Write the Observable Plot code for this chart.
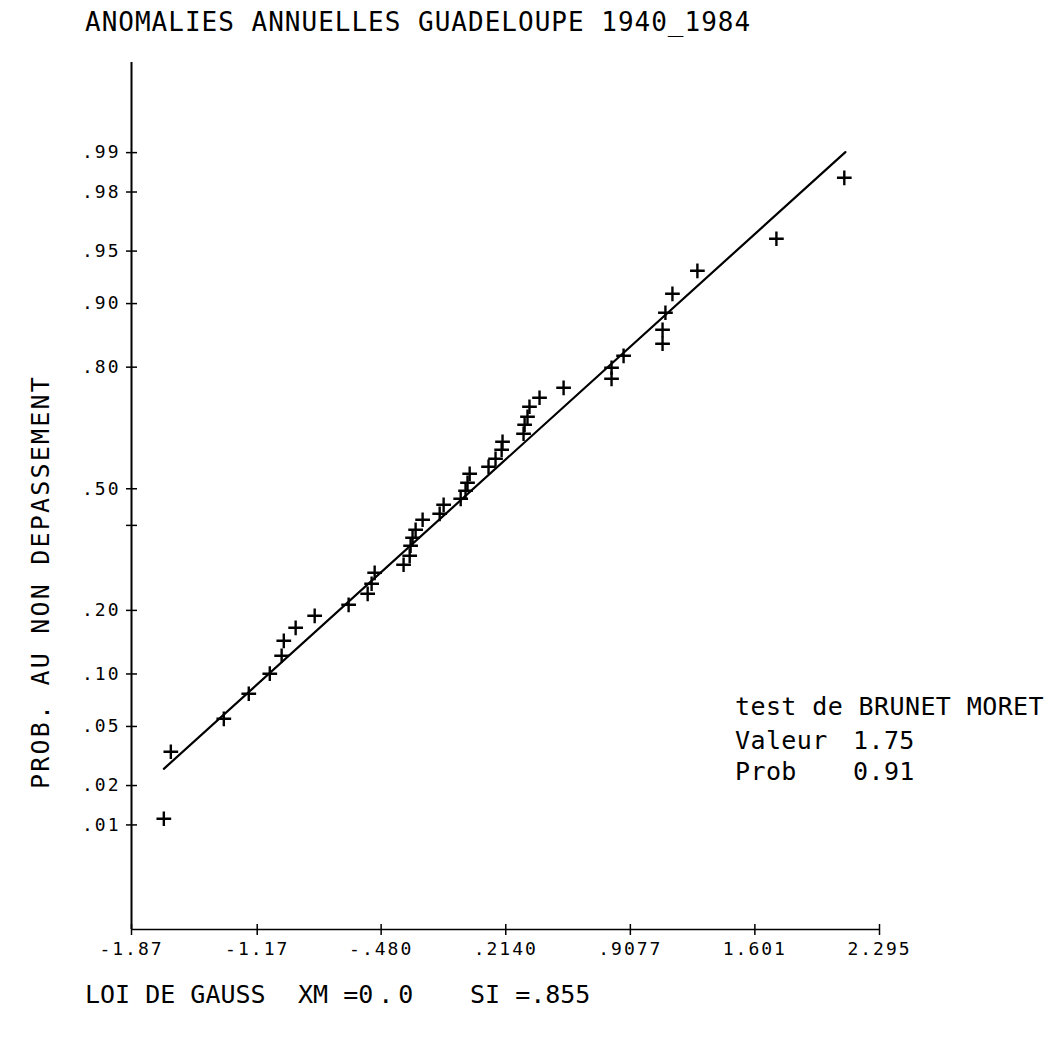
<!DOCTYPE html>
<html>
<head>
<meta charset="utf-8">
<script src="https://cdn.jsdelivr.net/npm/d3@7"></script>
<script src="https://cdn.jsdelivr.net/npm/@observablehq/plot@0.6"></script>
<style>
  html, body { margin: 0; padding: 0; background: #fff; }
  #wrap { position: relative; width: 1053px; height: 1046px; overflow: hidden; background: #fff;
          font-family: "DejaVu Sans Mono", monospace; color: #000; }
  #chart { position: absolute; left: 0; top: 0; }
  .lbl { position: absolute; white-space: pre; line-height: 1; }
  #title { left: 85px; top: 9px; font-size: 26px; letter-spacing: 1px; }
  #ylab { left: 40px; top: 582px; font-size: 25px; letter-spacing: 2.2px;
          transform: translate(-50%, -50%) rotate(-90deg); }
  .xl { top: 982px; font-size: 25px; letter-spacing: 0px; }
  .note { font-size: 25px; letter-spacing: 0.4px; }
  #chart svg text { letter-spacing: 2px; }
</style>
</head>
<body>
<div id="wrap">
  <div id="chart"></div>
  <div id="title" class="lbl">ANOMALIES ANNUELLES GUADELOUPE 1940_1984</div>
  <div id="ylab" class="lbl">PROB. AU NON DEPASSEMENT</div>
  <div class="lbl xl" style="left:85px">LOI DE GAUSS</div>
  <div class="lbl xl" style="left:298px">XM =<span style="letter-spacing:5px">0.0</span></div>
  <div class="lbl xl" style="left:470px">SI =.855</div>
  <div class="lbl note" style="left:735px;top:694px">test de BRUNET MORET</div>
  <div class="lbl note" style="left:735px;top:728px">Valeur</div>
  <div class="lbl note" style="left:853px;top:728px">1.75</div>
  <div class="lbl note" style="left:735px;top:759px">Prob</div>
  <div class="lbl note" style="left:853px;top:759px">0.91</div>
</div>
<script>
// ---- data ----
const anomalies = [
  -1.690, -1.651, -1.356, -1.217, -1.100, -1.034, -1.022, -0.956, -0.850, -0.661,
  -0.555, -0.533, -0.516, -0.355, -0.321, -0.316, -0.305, -0.288, -0.249, -0.154,
  -0.132, -0.037, -0.010, 0.001, 0.013, 0.118, 0.157, 0.191, 0.196, 0.313,
  0.319, 0.335, 0.346, 0.402, 0.536, 0.803, 0.803, 0.870, 1.087, 1.087,
  1.103, 1.142, 1.281, 1.721, 2.099
];
const probabilities = [
  0.0112, 0.0344, 0.0557, 0.0780, 0.1003, 0.1239, 0.1464, 0.1680, 0.1897, 0.2110,
  0.2337, 0.2555, 0.2805, 0.2995, 0.3214, 0.3468, 0.3673, 0.3882, 0.4151, 0.4313,
  0.4559, 0.4724, 0.4945, 0.5166, 0.5413, 0.5605, 0.5822, 0.6064, 0.6275, 0.6483,
  0.6711, 0.6909, 0.7148, 0.7356, 0.7577, 0.7767, 0.7988, 0.8213, 0.8422, 0.8644,
  0.8884, 0.9114, 0.9343, 0.9582, 0.9843
];
const fitLineX = [-1.690, 2.105];
const fitLineP = [0.0263, 0.9901];
const yTickProbs  = [0.01, 0.02, 0.05, 0.10, 0.20, 0.40, 0.50, 0.80, 0.90, 0.95, 0.98, 0.99];
const yTickLabels = [".01", ".02", ".05", ".10", ".20", "", ".50", ".80", ".90", ".95", ".98", ".99"];
const xTicks      = [-1.87, -1.17, -0.480, 0.2140, 0.9077, 1.601, 2.295];
const xTickLabels = ["-1.87", "-1.17", "-.480", ".2140", ".9077", "1.601", "2.295"];

// ---- normal probability (probit) transform for the y scale ----
function probit(p) {
  const a = [-3.969683028665376e+01, 2.209460984245205e+02, -2.759285104469687e+02, 1.383577518672690e+02, -3.066479806614716e+01, 2.506628277459239e+00];
  const b = [-5.447609879822406e+01, 1.615858368580409e+02, -1.556989798598866e+02, 6.680131188771972e+01, -1.328068155288572e+01];
  const c = [-7.784894002430293e-03, -3.223964580411365e-01, -2.400758277161838e+00, -2.549671010994341e+00, 4.374664141464968e+00, 2.938163982698783e+00];
  const d = [7.784695709041462e-03, 3.224671290700398e-01, 2.445134137142996e+00, 3.754408661907416e+00];
  const pl = 0.02425, ph = 1 - pl;
  let q, r;
  if (p < pl) {
    q = Math.sqrt(-2 * Math.log(p));
    return (((((c[0]*q+c[1])*q+c[2])*q+c[3])*q+c[4])*q+c[5]) / ((((d[0]*q+d[1])*q+d[2])*q+d[3])*q+1);
  }
  if (p <= ph) {
    q = p - 0.5; r = q * q;
    return (((((a[0]*r+a[1])*r+a[2])*r+a[3])*r+a[4])*r+a[5])*q / (((((b[0]*r+b[1])*r+b[2])*r+b[3])*r+b[4])*r+1);
  }
  q = Math.sqrt(-2 * Math.log(1 - p));
  return -(((((c[0]*q+c[1])*q+c[2])*q+c[3])*q+c[4])*q+c[5]) / ((((d[0]*q+d[1])*q+d[2])*q+d[3])*q+1);
}

const points = anomalies.map((x, i) => ({x, z: probit(probabilities[i])}));
const fit = fitLineX.map((x, i) => ({x, z: probit(fitLineP[i])}));
const yTicksZ = yTickProbs.map(probit);
const yLabel = new Map(yTicksZ.map((z, i) => [z, yTickLabels[i]]));
const xLabel = new Map(xTicks.map((x, i) => [x, xTickLabels[i]]));
const xMin = xTicks[0];
const zBottom = -3.05, zTop = 2.95;

const hTick = {draw(ctx, size) { const r = Math.sqrt(size / Math.PI); ctx.moveTo(-r, 0); ctx.lineTo(r, 0); }};
const vTick = {draw(ctx, size) { const r = Math.sqrt(size / Math.PI); ctx.moveTo(0, -r); ctx.lineTo(0, r); }};

const chart = Plot.plot({
  width: 1053,
  height: 990,
  marginLeft: 131,
  marginRight: 174,
  marginTop: 62,
  marginBottom: 61,
  x: {domain: [xMin, xTicks[xTicks.length - 1]]},
  y: {domain: [zBottom, zTop]},
  style: {fontFamily: "DejaVu Sans Mono, monospace", fontSize: "18px", color: "#000", background: "#fff"},
  marks: [
    Plot.ruleX([xMin], {stroke: "#000", strokeWidth: 2}),
    Plot.ruleY([zBottom], {stroke: "#000", strokeWidth: 1.6}),
    Plot.axisY(yTicksZ, {tickSize: 0, tickPadding: 11, fontSize: 18, tickFormat: z => yLabel.get(z), label: null}),
    Plot.dot(yTicksZ, {x: () => xMin, y: d => d, symbol: hTick, r: 5.5, stroke: "#000", strokeWidth: 1.5, fill: "none"}),
    Plot.axisX(xTicks, {tickSize: 0, tickPadding: 13, fontSize: 18, tickFormat: x => xLabel.get(x), label: null}),
    Plot.dot(xTicks, {x: d => d, y: () => zBottom, symbol: vTick, r: 5.5, stroke: "#000", strokeWidth: 1.5, fill: "none"}),
    Plot.line(fit, {x: "x", y: "z", stroke: "#000", strokeWidth: 2.2}),
    Plot.dot(points, {x: "x", y: "z", symbol: "plus", r: 4.8, stroke: "#000", strokeWidth: 2.4})
  ]
});
document.getElementById("chart").appendChild(chart);
</script>
</body>
</html>
